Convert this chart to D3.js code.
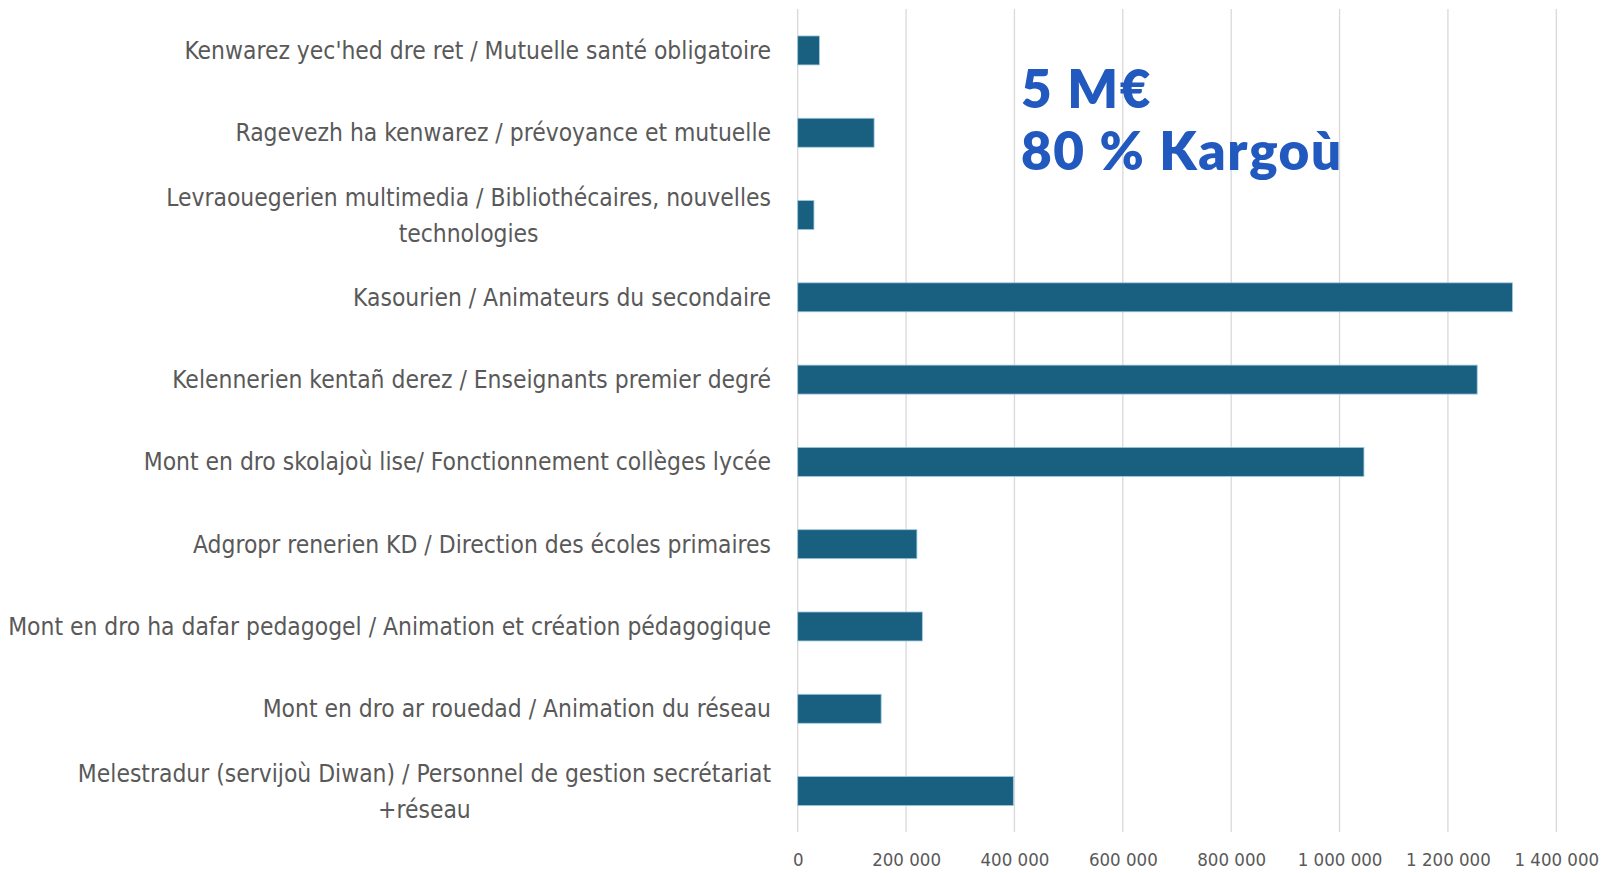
<!DOCTYPE html>
<html>
<head>
<meta charset="utf-8">
<script src="https://cdn.jsdelivr.net/npm/d3@7"></script>
<style>
  body { margin: 0; background: #fff; }
  .cat { font-family: "Liberation Sans Narrow", "DejaVu Sans Condensed", sans-serif; font-size: 24.4px; fill: #595959; }
  .tick text { font-family: "Liberation Sans Narrow", "DejaVu Sans Condensed", sans-serif; font-size: 18.5px; fill: #595959; }
  .note { font-family: Lato, "Open Sans", sans-serif; font-weight: 800; font-size: 53px; letter-spacing: 1.6px; fill: #2159bf; }
</style>
</head>
<body>
<script>
// categories top to bottom, "\n" = line break as in the original
const categories = [
  "Kenwarez yec'hed dre ret / Mutuelle santé obligatoire",
  "Ragevezh ha kenwarez / prévoyance et mutuelle",
  "Levraouegerien multimedia / Bibliothécaires, nouvelles\ntechnologies",
  "Kasourien / Animateurs du secondaire",
  "Kelennerien kentañ derez / Enseignants premier degré",
  "Mont en dro skolajoù lise/ Fonctionnement collèges lycée",
  "Adgropr renerien KD / Direction des écoles primaires",
  "Mont en dro ha dafar pedagogel / Animation et création pédagogique",
  "Mont en dro ar rouedad / Animation du réseau",
  "Melestradur (servijoù Diwan) / Personnel de gestion secrétariat\n+réseau"
];
const amounts = [40000, 141000, 30000, 1319000, 1254000, 1045000, 220000, 230000, 154000, 398000];
const xTicks = [0, 200000, 400000, 600000, 800000, 1000000, 1200000, 1400000];
const noteLines = ["5 M€", "80 % Kargoù"];

const W = 1605, H = 873;
const svg = d3.select('body').append('svg')
  .attr('width', W)
  .attr('height', H);

const x = d3.scaleLinear()
  .domain([0, 1400000])
  .range([797.7, 1556.3]);

const y = d3.scaleBand()
  .domain(d3.range(categories.length))
  .range([9.3, 832.2])
  .paddingInner(0.648)
  .paddingOuter(0.324);

const loc = d3.formatLocale({ decimal: ',', thousands: ' ', grouping: [3], currency: ['', ' €'] });

// gridlines
svg.append('g')
  .selectAll('line')
  .data(xTicks)
  .enter()
  .append('line')
  .attr('x1', d => x(d)).attr('x2', d => x(d))
  .attr('y1', 9).attr('y2', 832)
  .attr('stroke', '#d9d9d9')
  .attr('stroke-width', 1.3);

// x axis labels only
const xAxis = svg.append('g')
  .attr('transform', 'translate(0, 832)')
  .call(d3.axisBottom(x).tickValues(xTicks).tickSize(0).tickPadding(21).tickFormat(loc.format(',')));
xAxis.select('.domain').remove();

// bars
svg.append('g')
  .selectAll('rect')
  .data(amounts)
  .enter()
  .append('rect')
  .attr('x', x(0))
  .attr('y', (d, i) => y(i))
  .attr('width', d => x(d) - x(0))
  .attr('height', y.bandwidth())
  .attr('fill', '#195f80')
  .attr('stroke', '#9cc8dd')
  .attr('stroke-width', 0.8);

// category labels (right aligned, wrapped lines centred on the first line)
const labelRight = 771;
const lineH = 36;
categories.forEach((c, i) => {
  const lines = c.split('\n');
  const cy = y(i) + y.bandwidth() / 2;
  const t = svg.append('text').attr('class', 'cat');
  if (lines.length === 1) {
    t.attr('x', labelRight).attr('y', cy).attr('dy', '0.35em')
      .attr('text-anchor', 'end').text(c);
  } else {
    const first = t.append('tspan').text(lines[0]);
    const w = first.node().getComputedTextLength();
    const mid = labelRight - w / 2;
    t.attr('text-anchor', 'middle');
    lines.forEach((ln, j) => {
      const sp = j === 0 ? first : t.append('tspan').text(ln);
      sp.attr('x', mid)
        .attr('y', cy + (j - (lines.length - 1) / 2) * lineH)
        .attr('dy', '0.35em');
    });
  }
});

// annotation
svg.append('g')
  .selectAll('text')
  .data(noteLines)
  .enter()
  .append('text')
  .attr('class', 'note')
  .attr('x', 1021)
  .attr('y', (d, i) => 107.5 + i * 62.5)
  .text(d => d);
</script>
</body>
</html>
